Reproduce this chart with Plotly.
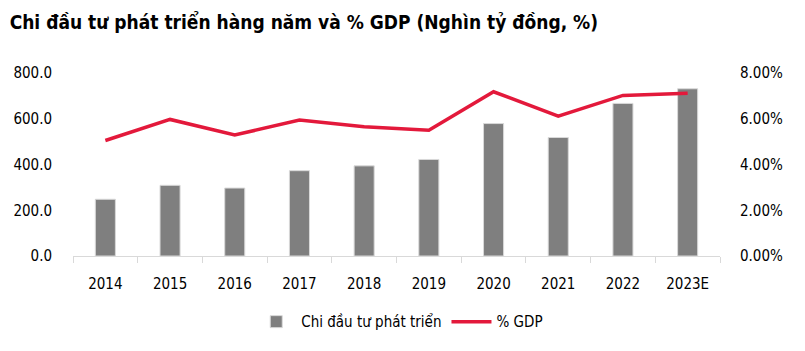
import plotly.graph_objects as go

years = ["2014", "2015", "2016", "2017", "2018", "2019", "2020", "2021", "2022", "2023E"]
spending = [248, 309, 297, 373, 394, 422, 579, 518, 667, 731]
gdp_pct = [0.0505, 0.0597, 0.0529, 0.0594, 0.0565, 0.0550, 0.0718, 0.0611, 0.0702, 0.0711]

FONT = "Liberation Sans Narrow, DejaVu Sans Condensed, Roboto, sans-serif"

fig = go.Figure()
fig.add_trace(go.Bar(
    x=years, y=spending, name="Chi đầu tư phát triển",
    marker=dict(color="#7f7f7f", line=dict(color="#d9d9d9", width=1)),
    width=0.31,
))
fig.add_trace(go.Scatter(
    x=years, y=gdp_pct, name="% GDP", yaxis="y2", mode="lines",
    line=dict(color="#e3193b", width=3.5),
))

fig.update_layout(
    width=805, height=351,
    margin=dict(l=73, r=85, t=73, b=90),
    paper_bgcolor="white", plot_bgcolor="white",
    font=dict(family=FONT, size=15, color="black"),
    title=dict(text="<b>Chi đầu tư phát triển hàng năm và % GDP (Nghìn tỷ đồng, %)</b>",
               x=0.012, xanchor="left", y=0.935, yanchor="middle",
               font=dict(family=FONT, size=19, color="black")),
    showlegend=True,
    legend=dict(orientation="h", x=0.505, xanchor="center", y=-0.36, yanchor="middle",
                font=dict(family=FONT, size=15), itemwidth=40, traceorder="normal"),
    xaxis=dict(type="category", showline=True, linecolor="#d9d9d9", linewidth=1,
               ticks="outside", tickson="boundaries", tickcolor="#d9d9d9", ticklen=6,
               showgrid=False, tickfont=dict(size=15), ticklabelstandoff=14),
    yaxis=dict(range=[0, 800], dtick=200, tickformat=".1f", showgrid=False,
               zeroline=False, showline=False, ticks="outside", ticklen=17,
               tickcolor="rgba(0,0,0,0)", tickfont=dict(size=15)),
    yaxis2=dict(range=[0, 0.08], dtick=0.02, tickformat=".2%", overlaying="y",
                side="right", showgrid=False, zeroline=False, showline=False,
                ticks="outside", ticklen=16, tickcolor="rgba(0,0,0,0)",
                tickfont=dict(size=15)),
    bargap=0.69,
)

fig.write_html("out.html")
